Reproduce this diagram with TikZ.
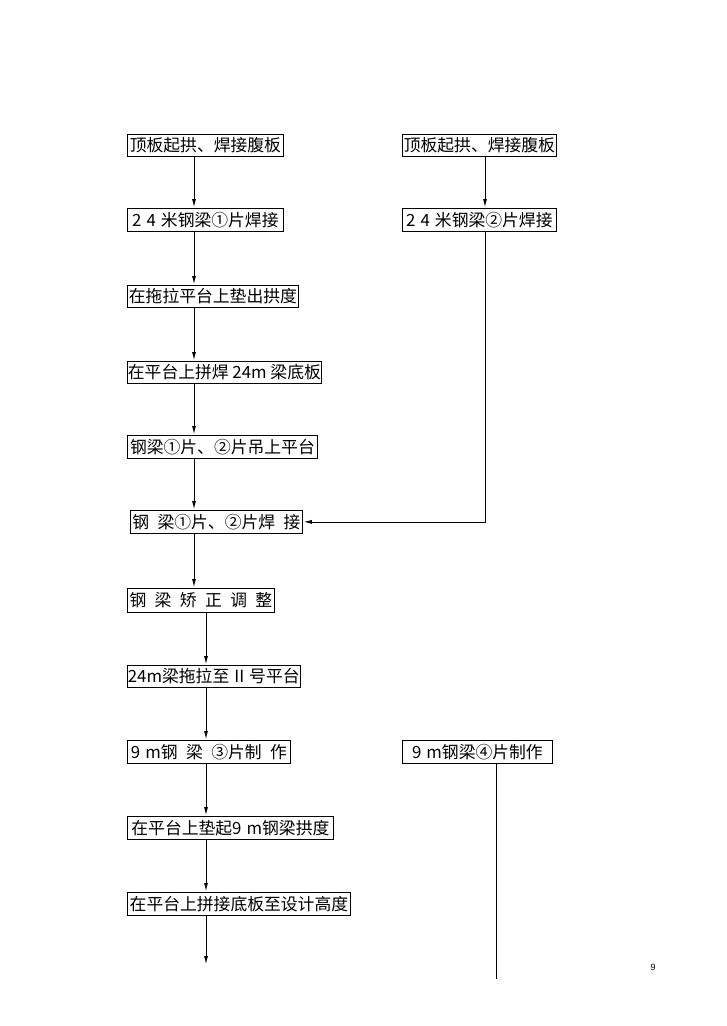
\documentclass[tikz,border=0pt]{standalone}
\usepackage{fontspec}
\newfontfamily\cjk{Noto Sans CJK SC}
\usetikzlibrary{arrows.meta,calc}
\newcommand{\gap}{\hspace{0.5em}}
\newcommand{\ngap}{\hspace{0.3em}}
\tikzset{
  jobbox/.style={draw, line width=0.8pt, anchor=north west, inner sep=0.5pt,
    minimum height=22pt, font=\cjk\fontsize{16.8}{18}\selectfont},
  flow/.style={line width=0.8pt, -{Latex[length=8pt,width=4pt]}, shorten >=1pt},
  plain/.style={line width=0.8pt}
}
\begin{document}
\begin{tikzpicture}[x=1pt,y=-1pt]
			%%%%% START %%%%%
			\useasboundingbox (0,0) rectangle (726,1026);
			
			\coordinate (colA) at (194,0);
			\coordinate (colB) at (206,0);
			\coordinate (colR) at (485,0);
			\coordinate (colS) at (496,0);
			
			% left column
			\node[jobbox, minimum width=156pt] (ding) at (127,134) {顶板起拱、焊接腹板};
			\node[jobbox, minimum width=156pt, minimum height=23pt] (pian1) at (127,208) {2\ngap 4\ngap 米钢梁①片焊接};
			\node[jobbox, minimum width=171pt] (gongdu) at (127,285) {在拖拉平台上垫出拱度};
			\node[jobbox, minimum width=194pt] (diban) at (127,361) {在平台上拼焊 24m 梁底板};
			\node[jobbox, minimum width=190pt, minimum height=23pt] (diao) at (127,435) {钢梁①片、②片吊上平台};
			\node[jobbox, minimum width=172pt, minimum height=23pt] (hanjie) at (130,510) {钢\gap 梁①片、②片焊\gap 接};
			\node[jobbox, minimum width=147pt, minimum height=24pt] (jiaozheng) at (127,588) {钢\gap 梁\gap 矫\gap 正\gap 调\gap 整};
			\node[jobbox, minimum width=172pt] (tuola) at (127,665) {24m梁拖拉至\ngap II\ngap 号平台};
			\node[jobbox, minimum width=163pt, minimum height=23pt] (pian3) at (127,740) {9\ngap m钢\gap 梁\gap ③片制\gap 作};
			\node[jobbox, minimum width=206pt, minimum height=23pt] (dianqi) at (127,816) {在平台上垫起9\ngap m钢梁拱度};
			\node[jobbox, minimum width=223pt, minimum height=23pt] (gaodu) at (127,892) {在平台上拼接底板至设计高度};
			
			% right column
			\node[jobbox, minimum width=154pt] (dingR) at (402,134) {顶板起拱、焊接腹板};
			\node[jobbox, minimum width=154pt, minimum height=23pt] (pian2) at (402,208) {2\ngap 4\ngap 米钢梁②片焊接};
			\node[jobbox, minimum width=150pt, minimum height=23pt] (pian4) at (402,740) {9\ngap m钢梁④片制作};
			
			\coordinate (endA) at (206,965);
			\coordinate (endS) at (496,979);
			
			% arrows
			\draw[flow] (ding.south -| colA) -- (pian1.north -| colA);
			\draw[flow] (pian1.south -| colA) -- (gongdu.north -| colA);
			\draw[flow] (gongdu.south -| colA) -- (diban.north -| colA);
			\draw[flow] (diban.south -| colA) -- (diao.north -| colA);
			\draw[flow] (diao.south -| colA) -- (hanjie.north -| colA);
			\draw[flow] (hanjie.south -| colA) -- (jiaozheng.north -| colA);
			\draw[flow] (jiaozheng.south -| colB) -- (tuola.north -| colB);
			\draw[flow] (tuola.south -| colB) -- (pian3.north -| colB);
			\draw[flow] (pian3.south -| colB) -- (dianqi.north -| colB);
			\draw[flow] (dianqi.south -| colB) -- (gaodu.north -| colB);
			\draw[flow] (gaodu.south -| colB) -- (endA);
			
			\draw[flow] (dingR.south -| colR) -- (pian2.north -| colR);
			\draw[flow] (pian2.south -| colR) |- (hanjie.east);
			\draw[plain] (pian4.south -| colS) -- (endS);
			
			\node[font=\fontspec{Liberation Sans}\fontsize{9}{10}\selectfont] (pagenum) at (653,967) {9};
			%%%%% END %%%%%
\end{tikzpicture}
\end{document}
